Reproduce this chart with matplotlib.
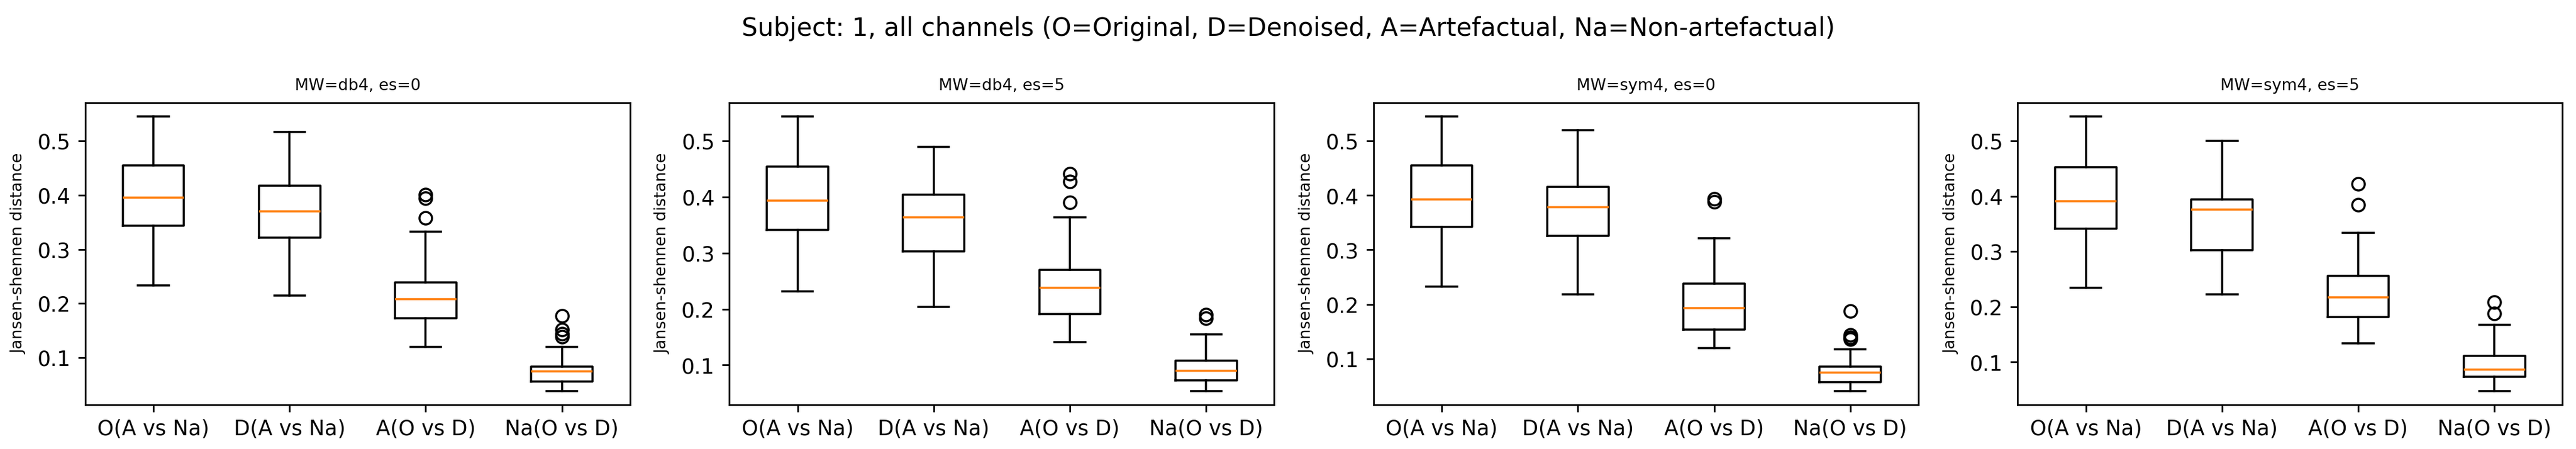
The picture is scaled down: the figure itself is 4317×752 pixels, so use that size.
import matplotlib
matplotlib.use("Agg")
import matplotlib.pyplot as plt

categories = ["O(A vs Na)", "D(A vs Na)", "A(O vs D)", "Na(O vs D)"]
panel_titles = ["MW=db4, es=0", "MW=db4, es=5", "MW=sym4, es=0", "MW=sym4, es=5"]
suptitle_text = "Subject: 1, all channels (O=Original, D=Denoised, A=Artefactual, Na=Non-artefactual)"
ylabel_text = "Jansen-shennen distance"

# Panel 1: MW=db4, es=0
db4_es0_med = [0.3955, 0.370, 0.2082, 0.0745]
db4_es0_q1 = [0.344, 0.3218, 0.1722, 0.0554]
db4_es0_q3 = [0.4549, 0.4178, 0.239, 0.0836]
db4_es0_whislo = [0.2337, 0.2141, 0.1202, 0.0385]
db4_es0_whishi = [0.5456, 0.5164, 0.3329, 0.1202]
db4_es0_fliers = [[], [], [0.4008, 0.3944, 0.3584], [0.177, 0.1515, 0.1435, 0.1382]]

# Panel 2: MW=db4, es=5
db4_es5_med = [0.3933, 0.3631, 0.2378, 0.0893]
db4_es5_q1 = [0.3409, 0.3027, 0.1907, 0.0724]
db4_es5_q3 = [0.4538, 0.404, 0.2698, 0.108]
db4_es5_whislo = [0.2311, 0.204, 0.1413, 0.0538]
db4_es5_whishi = [0.544, 0.4893, 0.3631, 0.1547]
db4_es5_fliers = [[], [], [0.4413, 0.428, 0.3902], [0.190, 0.1836]]

# Panel 3: MW=sym4, es=0
sym4_es0_med = [0.393, 0.3789, 0.1928, 0.0749]
sym4_es0_q1 = [0.3423, 0.3254, 0.1539, 0.0575]
sym4_es0_q3 = [0.4547, 0.4154, 0.2376, 0.0854]
sym4_es0_whislo = [0.2326, 0.2184, 0.1197, 0.041]
sym4_es0_whishi = [0.5453, 0.5197, 0.3208, 0.1174]
sym4_es0_fliers = [[], [], [0.394, 0.3885], [0.1873, 0.1434, 0.1389, 0.1357]]

# Panel 4: MW=sym4, es=5
sym4_es5_med = [0.3914, 0.3757, 0.2167, 0.0865]
sym4_es5_q1 = [0.3414, 0.3027, 0.1811, 0.073]
sym4_es5_q3 = [0.4527, 0.3941, 0.2559, 0.1113]
sym4_es5_whislo = [0.2338, 0.2225, 0.1342, 0.0477]
sym4_es5_whishi = [0.5446, 0.5005, 0.3338, 0.1671]
sym4_es5_fliers = [[], [], [0.4225, 0.3842], [0.2086, 0.1883]]

panels = [
    (db4_es0_med, db4_es0_q1, db4_es0_q3, db4_es0_whislo, db4_es0_whishi, db4_es0_fliers),
    (db4_es5_med, db4_es5_q1, db4_es5_q3, db4_es5_whislo, db4_es5_whishi, db4_es5_fliers),
    (sym4_es0_med, sym4_es0_q1, sym4_es0_q3, sym4_es0_whislo, sym4_es0_whishi, sym4_es0_fliers),
    (sym4_es5_med, sym4_es5_q1, sym4_es5_q3, sym4_es5_whislo, sym4_es5_whishi, sym4_es5_fliers),
]

DPI = 252
fig, axes = plt.subplots(1, 4, figsize=(4317.3 / DPI, 752.3 / DPI), dpi=DPI)
fig.subplots_adjust(left=0.0331, right=0.9947, bottom=0.0988, top=0.7713, wspace=0.1825)

for ax, title, (med, q1, q3, lo, hi, fl) in zip(axes, panel_titles, panels):
    stats = []
    for i, lab in enumerate(categories):
        stats.append(dict(med=med[i], q1=q1[i], q3=q3[i], whislo=lo[i],
                          whishi=hi[i], fliers=fl[i], label=lab))
    ax.bxp(stats, positions=[1, 2, 3, 4], widths=0.45, showfliers=True)
    ax.set_xlim(0.5, 4.5)
    ax.set_title(title, fontsize=7.7)
    ax.set_ylabel(ylabel_text, fontsize=7.7)
    ax.yaxis.set_label_coords(-0.108, 0.5)
    ax.tick_params(labelsize=10)

fig.suptitle(suptitle_text, fontsize=12, y=1 - 60 / 752, va="baseline")
fig.savefig("out.png", dpi=DPI)
